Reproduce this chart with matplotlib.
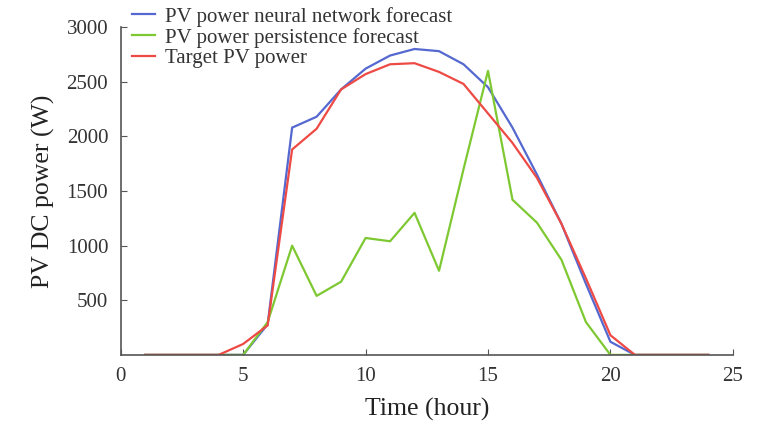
import numpy as np
import matplotlib
matplotlib.use('Agg')
import matplotlib.pyplot as plt

plt.rcParams['font.family'] = ['Liberation Serif', 'DejaVu Serif']

hours = np.arange(1, 25)
nn_forecast = [0, 0, 0, 0, 0, 280, 2080, 2180, 2430, 2620, 2740, 2800,
               2780, 2660, 2450, 2080, 1650, 1200, 650, 120, 0, 0, 0, 0]
persistence = [0, 0, 0, 0, 0, 300, 1000, 540, 670, 1070, 1040, 1300,
               770, 1700, 2600, 1420, 1210, 870, 300, 0, 0, 0, 0, 0]
target = [0, 0, 0, 0, 100, 270, 1880, 2070, 2430, 2570, 2660, 2670,
          2590, 2480, 2210, 1940, 1620, 1200, 700, 180, 0, 0, 0, 0]

fig = plt.figure(figsize=(7.69, 4.24), dpi=100)
ax = fig.add_axes([0.157, 0.163, 0.796, 0.773])

ax.plot(hours, nn_forecast, color='#5468d0', lw=1.6, label='PV power neural network forecast')
ax.plot(hours, persistence, color='#7ec832', lw=1.6, label='PV power persistence forecast')
ax.plot(hours, target, color='#ee4a45', lw=1.6, label='Target PV power')

ax.set_xlim(0, 25)
ax.set_ylim(0, 3000)
ax.set_xticks(range(0, 26, 5))
ax.set_yticks(range(500, 3001, 500))
ax.tick_params(direction='in', labelsize=15, length=4, color='#555555', colors='#333333')
ax.tick_params(axis='x', pad=9)
ax.tick_params(axis='y', pad=9)
ax.spines['top'].set_visible(False)
ax.spines['right'].set_visible(False)
for s in ('left', 'bottom'):
    ax.spines[s].set_color('#555555')
    ax.spines[s].set_linewidth(1.2)

ax.set_xlabel('Time (hour)', fontsize=18.5, color='#222222', labelpad=8)
ax.set_ylabel('PV DC power (W)', fontsize=18.5, color='#222222', labelpad=8)

ax.legend(loc='upper left', bbox_to_anchor=(-0.005, 1.107), frameon=False,
          fontsize=15, handlelength=1.1, handletextpad=0.45, labelspacing=0.05,
          borderpad=0.2, labelcolor='#333333')

fig.savefig('out.png', dpi=100)
